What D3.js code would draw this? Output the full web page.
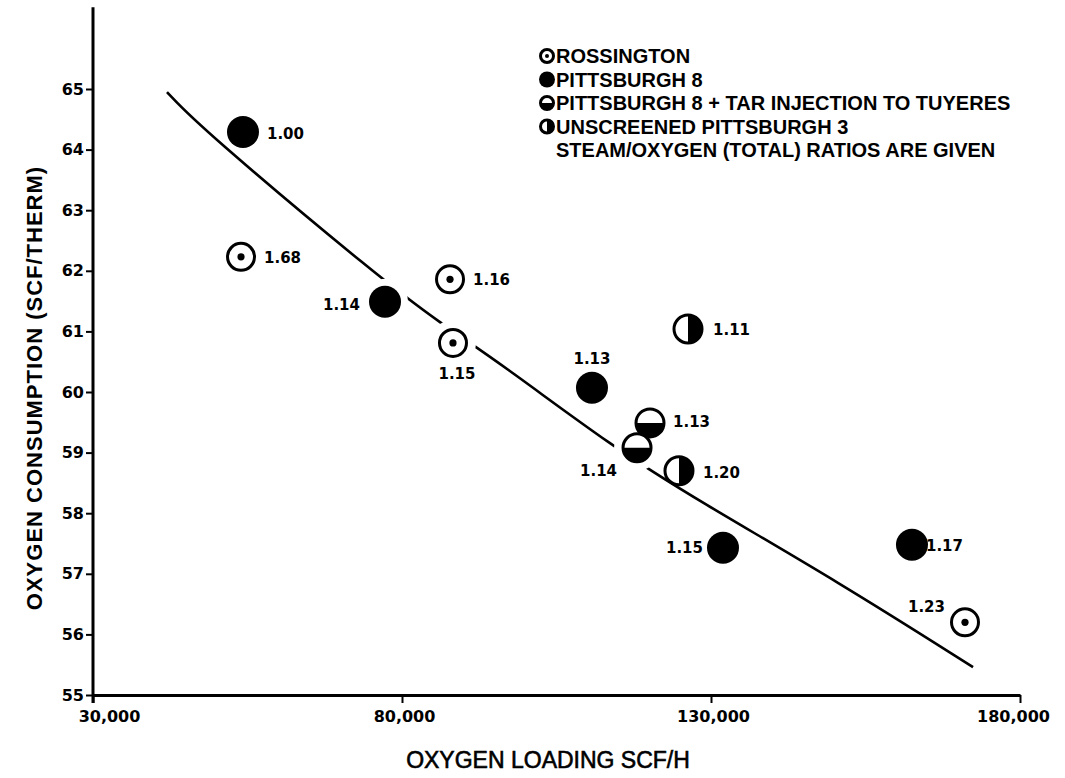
<!DOCTYPE html>
<html>
<head>
<meta charset="utf-8">
<script src="https://cdn.jsdelivr.net/npm/d3@7"></script>
<style>
  html, body { margin: 0; padding: 0; background: #fff; }
  svg { display: block; }
</style>
</head>
<body>
<svg id="chart" width="1065" height="778"></svg>
<script>
// Oxygen consumption per therm against oxygen loading, by coal feed.
// Each point carries its steam/oxygen (total) ratio as a label.

const xTicks = [30000, 80000, 130000, 180000];
const yTicks = [55, 56, 57, 58, 59, 60, 61, 62, 63, 64, 65];

// Rossington coal
const rossingtonX = [53950, 87770, 88250, 171100];
const rossingtonY = [62.23, 61.86, 60.81, 56.20];
const rossingtonRatio = ["1.68", "1.16", "1.15", "1.23"];

// Pittsburgh 8 coal
const pitt8X = [54270, 77250, 110740, 131940, 162520];
const pitt8Y = [64.29, 61.49, 60.07, 57.43, 57.48];
const pitt8Ratio = ["1.00", "1.14", "1.13", "1.15", "1.17"];

// Pittsburgh 8 with tar injected to the tuyeres
const tarX = [120130, 118030];
const tarY = [59.49, 59.08];
const tarRatio = ["1.13", "1.14"];

// Unscreened Pittsburgh 8
const unscreenedX = [126280, 124820];
const unscreenedY = [61.04, 58.70];
const unscreenedRatio = ["1.11", "1.20"];

// Fitted trend curve
const curveX = [41970, 47310, 76760, 86150, 95860, 114140, 127740, 150870, 172400];
const curveY = [64.95, 64.37, 61.85, 61.14, 60.48, 59.09, 58.22, 56.85, 55.46];

const legendNames = [
  "ROSSINGTON",
  "PITTSBURGH 8",
  "PITTSBURGH 8 + TAR INJECTION TO TUYERES",
  "UNSCREENED PITTSBURGH 3"
];
const legendNote = "STEAM/OXYGEN (TOTAL) RATIOS ARE GIVEN";

// ---- layout ----
const W = 1065, H = 778;
const x = d3.scaleLinear().domain([30000, 180000]).range([93, 1020]);
const y = d3.scaleLinear().domain([55, 65]).range([695, 89]);
const yAxisTop = 66.35;

const numFont = "'DejaVu Sans', sans-serif";
const textFont = "'Liberation Sans', Arial, sans-serif";

// label placement per point: [dx, dy, anchor] relative to the marker centre
const rossingtonLabel = [[23, 6, "start"], [23, 6, "start"], [4, 36, "middle"], [-20, -10, "end"]];
const pitt8Label = [[24, 7, "start"], [-25, 8, "end"], [0, -24, "middle"], [-20, 5, "end"], [14, 6, "start"]];
const tarLabel = [[23, 4, "start"], [-20, 28, "end"]];
const unscreenedLabel = [[25, 6, "start"], [24, 7, "start"]];
// points whose surroundings interrupt the trend curve
const curveGaps = [[pitt8X[1], pitt8Y[1]], [rossingtonX[2], rossingtonY[2]], [tarX[1], tarY[1]]];

const svg = d3.select("#chart");
svg.append("rect").attr("width", W).attr("height", H).attr("fill", "#fff");

// ---- axes ----
const xAxis = d3.axisBottom(x).tickValues(xTicks).tickSize(8).tickSizeOuter(0)
  .tickFormat(d3.format(","));
const gx = svg.append("g").attr("transform", `translate(0,${y(55)})`).call(xAxis);
gx.select(".domain").attr("stroke", "#000").attr("stroke-width", 3);
gx.selectAll(".tick line").attr("stroke", "#000").attr("stroke-width", 2);
gx.selectAll(".tick text")
  .attr("font-family", numFont).attr("font-weight", "bold").attr("font-size", 16)
  .attr("fill", "#000").attr("y", 16)
  .attr("dx", d => d === 30000 ? 16 : (d === 180000 ? -7 : 2));

const yAxis = d3.axisLeft(y).tickValues(yTicks).tickSize(7).tickSizeOuter(0);
const gy = svg.append("g").attr("transform", `translate(${x(30000)},0)`).call(yAxis);
gy.select(".domain").remove();
gy.selectAll(".tick line").attr("stroke", "#000").attr("stroke-width", 2);
gy.selectAll(".tick text")
  .attr("font-family", numFont).attr("font-weight", "bold").attr("font-size", 16)
  .attr("fill", "#000").attr("x", -9);
svg.append("line")
  .attr("x1", x(30000)).attr("x2", x(30000))
  .attr("y1", y(55) + 8).attr("y2", y(yAxisTop))
  .attr("stroke", "#000").attr("stroke-width", 3);

// axis titles
svg.append("text")
  .attr("x", 548).attr("y", 768)
  .attr("text-anchor", "middle")
  .attr("font-family", textFont).attr("font-size", 23)
  .attr("stroke", "#000").attr("stroke-width", 0.6)
  .text("OXYGEN LOADING SCF/H");
svg.append("text")
  .attr("transform", "translate(42,388) rotate(-90)")
  .attr("text-anchor", "middle")
  .attr("font-family", textFont).attr("font-weight", "bold").attr("font-size", 22)
  .attr("letter-spacing", 1)
  .text("OXYGEN CONSUMPTION (SCF/THERM)");

// ---- trend curve ----
const curvePts = curveX.map((v, i) => [x(v), y(curveY[i])]);
svg.append("path")
  .attr("d", d3.line().curve(d3.curveBasis)(curvePts))
  .attr("fill", "none").attr("stroke", "#000").attr("stroke-width", 2.6);
svg.selectAll("circle.gap").data(curveGaps).join("circle")
  .attr("class", "gap")
  .attr("cx", d => x(d[0])).attr("cy", d => y(d[1]))
  .attr("r", 23).attr("fill", "#fff");

// ---- marker symbols ----
function drawMarker(g, kind, r) {
  if (kind === "filled") {
    g.append("circle").attr("r", r).attr("fill", "#000");
    return;
  }
  g.append("circle").attr("r", r - 1.5).attr("fill", "#fff")
    .attr("stroke", "#000").attr("stroke-width", 3);
  if (kind === "open") {
    g.append("circle").attr("r", Math.max(2, r * 0.24)).attr("fill", "#000");
  } else if (kind === "lowerHalf") {
    g.append("path").attr("fill", "#000")
      .attr("d", d3.arc().innerRadius(0).outerRadius(r - 1)
        .startAngle(Math.PI / 2).endAngle(3 * Math.PI / 2)());
  } else if (kind === "rightHalf") {
    g.append("path").attr("fill", "#000")
      .attr("d", d3.arc().innerRadius(0).outerRadius(r - 1)
        .startAngle(0).endAngle(Math.PI)());
  }
}

function drawSeries(xs, ys, ratios, layout, kind, r) {
  xs.forEach((xv, i) => {
    const cx = x(xv), cy = y(ys[i]);
    const g = svg.append("g").attr("transform", `translate(${cx},${cy})`);
    drawMarker(g, kind, r);
    const [dx, dy, anchor] = layout[i];
    svg.append("text")
      .attr("x", cx + dx).attr("y", cy + dy)
      .attr("text-anchor", anchor)
      .attr("font-family", numFont).attr("font-weight", "bold").attr("font-size", 15)
      .text(ratios[i]);
  });
}

drawSeries(rossingtonX, rossingtonY, rossingtonRatio, rossingtonLabel, "open", 15);
drawSeries(pitt8X, pitt8Y, pitt8Ratio, pitt8Label, "filled", 16);
drawSeries(tarX, tarY, tarRatio, tarLabel, "lowerHalf", 15.5);
drawSeries(unscreenedX, unscreenedY, unscreenedRatio, unscreenedLabel, "rightHalf", 15.5);

// ---- legend ----
const legendKinds = ["open", "filled", "lowerHalf", "rightHalf"];
const legendX = 556, legendY0 = 56, legendStep = 23.5;
legendNames.forEach((name, i) => {
  const ly = legendY0 + i * legendStep;
  const g = svg.append("g").attr("transform", `translate(${legendX - 9},${ly})`);
  drawMarker(g, legendKinds[i], 8);
  svg.append("text")
    .attr("x", legendX).attr("y", ly + 7)
    .attr("font-family", textFont).attr("font-weight", "bold").attr("font-size", 20)
    .text(name);
});
svg.append("text")
  .attr("x", legendX).attr("y", legendY0 + 4 * legendStep + 7)
  .attr("font-family", textFont).attr("font-weight", "bold").attr("font-size", 20)
  .text(legendNote);
</script>
</body>
</html>
